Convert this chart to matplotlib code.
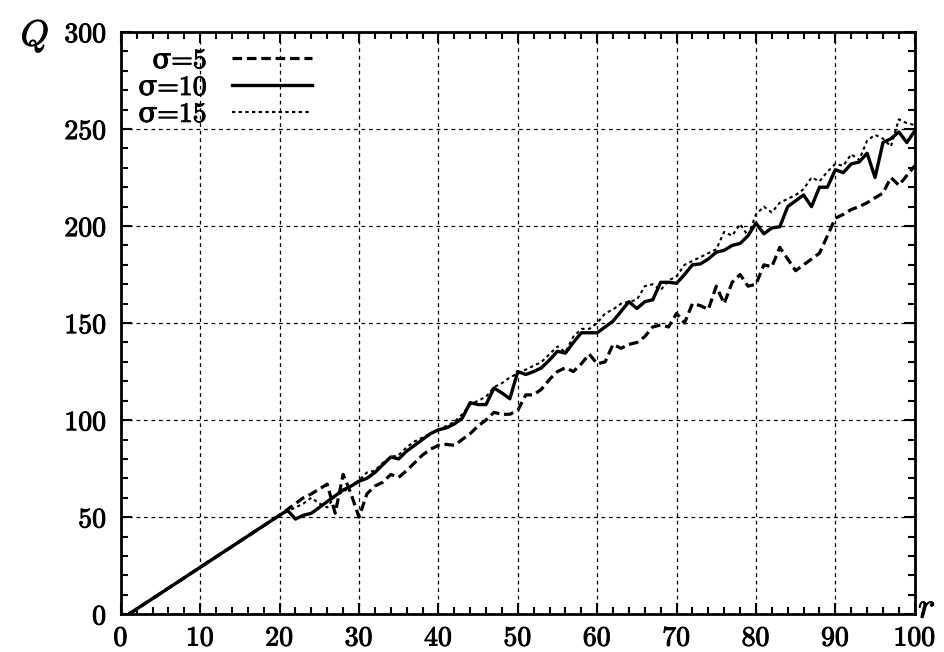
"""Q vs r para tres valores de sigma — estilo gnuplot."""

import matplotlib
matplotlib.use("Agg")
import matplotlib.pyplot as plt
import matplotlib.patheffects as pe
from matplotlib.ticker import MultipleLocator

plt.rcParams["font.family"] = ["cmr10", "DejaVu Serif"]
plt.rcParams["mathtext.fontset"] = "cm"
plt.rcParams["axes.formatter.use_mathtext"] = True

# r: tramo inicial comun (1 -> 20) y luego cada entero hasta 100
r = [1] + list(range(20, 101))

q_s5 = [0,
        51, 54, 57, 60, 62, 64.5, 67, 52, 72, 62,
        50, 62, 66, 68, 72, 70.5, 74, 78, 82, 85,
        87, 87.5, 87, 90, 93, 97, 100, 104, 103, 103,
        105, 113, 113, 116, 121, 125, 127, 125, 129, 134,
        129, 130, 139, 137, 139, 140, 143, 148, 149, 148,
        155, 150, 160, 159, 157, 169, 160, 171, 175, 169,
        170, 180, 179, 189, 183, 177, 180, 183, 186, 195,
        204, 206, 208.5, 210, 212, 214.5, 217, 225, 221, 226,
        231]

q_s10 = [0,
         51, 53.5, 49, 51, 52, 55, 58, 61, 64, 66,
         68.5, 70, 73, 77, 81, 80, 84, 87, 90, 93,
         95, 96, 98, 101, 109, 108, 108, 116.5, 114, 111,
         125, 123.5, 125, 127, 131, 135.5, 134.5, 140, 145, 145,
         145, 148, 151, 156, 161, 157.5, 161, 162, 171, 171,
         170.5, 175, 180, 180.5, 183, 186.5, 187.5, 190, 191, 195,
         201.5, 196, 199, 199.6, 210, 213, 216, 210, 220, 220,
         229, 227.5, 232, 233, 237.5, 225, 243, 245, 248.5, 243,
         249]

q_s15 = [0,
         51, 53, 55, 57, 60, 57, 55, 61, 63, 66,
         69, 73, 74, 78, 81, 82, 86, 89, 91, 93,
         95, 97, 99, 103, 108, 110, 112, 117, 119, 122,
         124, 126, 128, 130, 134, 138, 135, 143, 147, 147,
         150, 155, 157, 160, 161, 162, 169, 170, 167, 172,
         174, 180, 182, 184, 186, 188, 197, 195, 201, 195,
         206, 210, 207, 212, 214, 216, 219, 225, 223, 228,
         232, 231, 237, 234, 244, 247, 245, 241, 255, 253,
         252]

labels = ["σ=5", "σ=10", "σ=15"]

# trazo extra para engrosar el texto, como en la salida de gnuplot
thick = [pe.withStroke(linewidth=0.7, foreground="black")]

fig = plt.figure(figsize=(9.44, 6.52), dpi=100)
ax = fig.add_axes([0.128, 0.058, 0.841, 0.893])

ax.plot(r, q_s5, color="black", linewidth=2.3, dashes=(3.0, 1.5), label=labels[0])
ax.plot(r, q_s10, color="black", linewidth=2.4, label=labels[1])
ax.plot(r, q_s15, color="black", linewidth=1.5, dashes=(1.6, 1.6), label=labels[2])

ax.set_xlim(0, 100)
ax.set_ylim(0, 300)
ax.xaxis.set_major_locator(MultipleLocator(10))
ax.xaxis.set_minor_locator(MultipleLocator(2))
ax.yaxis.set_major_locator(MultipleLocator(50))
ax.yaxis.set_minor_locator(MultipleLocator(10))
ax.tick_params(which="both", direction="in", top=True, right=True,
               width=1.5, labelsize=20)
ax.tick_params(axis="x", pad=8)
ax.tick_params(axis="y", pad=10)
ax.tick_params(which="major", length=8)
ax.tick_params(which="minor", length=5)
for sp in ax.spines.values():
    sp.set_linewidth(2)
for t in ax.get_xticklabels() + ax.get_yticklabels():
    t.set_path_effects(thick)

ax.grid(True, which="major", color="black", linewidth=0.9,
        linestyle=(0, (3, 3)))

fig.text(0.037, 0.944, "$Q$", fontsize=26, ha="center", va="center",
         path_effects=thick)
fig.text(0.982, 0.066, "$r$", fontsize=26, ha="center", va="center",
         path_effects=thick)

leg = ax.legend(loc="upper left", frameon=False, markerfirst=False,
                fontsize=20, handlelength=2.9, handletextpad=0.9,
                labelspacing=0.02, borderaxespad=0.0,
                bbox_to_anchor=(0.008, 0.992))
for t in leg.get_texts():
    t.set_ha("right")
    t.set_path_effects(thick)

fig.savefig("out.png", dpi=100)
